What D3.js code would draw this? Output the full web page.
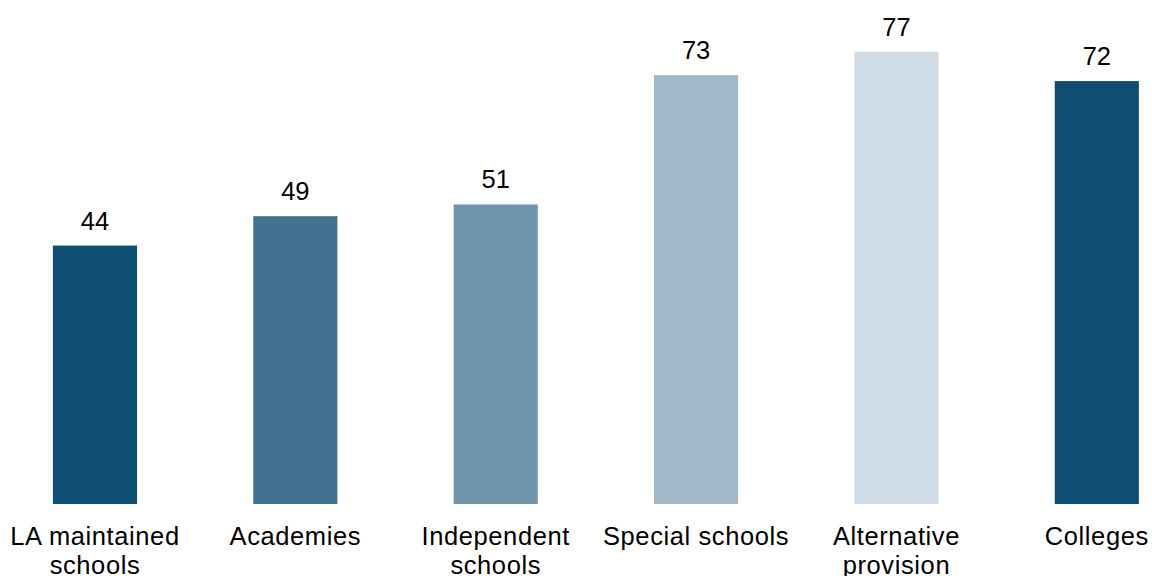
<!DOCTYPE html>
<html>
<head>
<meta charset="utf-8">
<script src="https://cdn.jsdelivr.net/npm/d3@7"></script>
<style>
  html, body { margin: 0; padding: 0; background: #ffffff; }
  svg { display: block; }
  text { font-family: "Liberation Sans", Arial, sans-serif; fill: #000000; }
</style>
</head>
<body>
<svg id="chart" width="1152" height="576"></svg>
<script>
const categories = [
  ["LA maintained", "schools"],
  ["Academies"],
  ["Independent", "schools"],
  ["Special schools"],
  ["Alternative", "provision"],
  ["Colleges"]
];
const values = [44, 49, 51, 73, 77, 72];
const colors = ["#0f4e73", "#41728f", "#7096ae", "#a1b8c8", "#cfdce5", "#0f4e73"];

const svg = d3.select("#chart");
const ids = d3.range(values.length);

const x = d3.scaleBand()
  .domain(ids)
  .range([-5.2, 1197])
  .paddingInner(0.58)
  .paddingOuter(0.29);

const y = d3.scaleLinear()
  .domain([0, 85.8])
  .range([504, 0]);

svg.append("g").selectAll("rect")
  .data(ids)
  .join("rect")
  .attr("x", i => x(i))
  .attr("width", x.bandwidth())
  .attr("y", i => y(values[i]))
  .attr("height", i => y(0) - y(values[i]))
  .attr("fill", i => colors[i]);

svg.append("g").selectAll("text")
  .data(ids)
  .join("text")
  .attr("x", i => x(i) + x.bandwidth() / 2)
  .attr("y", i => y(values[i]) - 16)
  .attr("text-anchor", "middle")
  .attr("font-size", 25.5)
  .text(i => values[i]);

const labels = svg.append("g").selectAll("text")
  .data(ids)
  .join("text")
  .attr("x", i => x(i) + x.bandwidth() / 2)
  .attr("y", 545)
  .attr("text-anchor", "middle")
  .attr("font-size", 25.5)
  .attr("letter-spacing", 0.6);

labels.selectAll("tspan")
  .data(i => categories[i].map(t => ({t, cx: x(i) + x.bandwidth() / 2})))
  .join("tspan")
  .attr("x", d => d.cx)
  .attr("dy", (d, j) => j === 0 ? 0 : 28.5)
  .text(d => d.t);
</script>
</body>
</html>
